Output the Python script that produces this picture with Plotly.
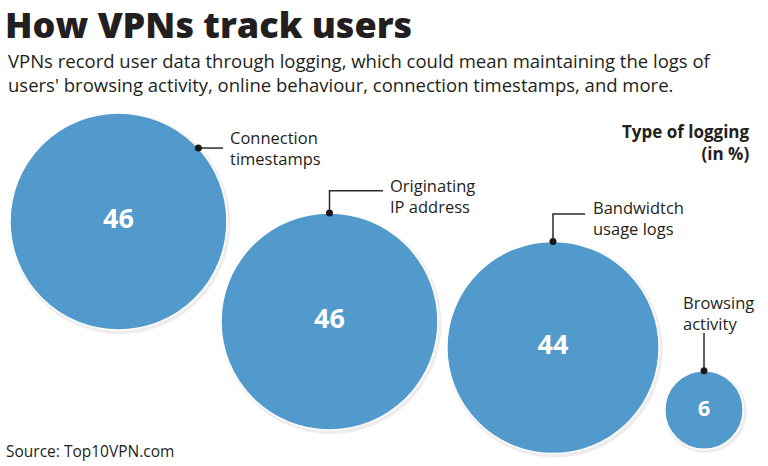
import math
import plotly.graph_objects as go

# ---- data ----
categories = ["Connection timestamps", "Originating IP address", "Bandwidtch usage logs", "Browsing activity"]
values = [46, 46, 44, 6]
label_lines = [["Connection", "timestamps"], ["Originating", "IP address"], ["Bandwidtch", "usage logs"], ["Browsing", "activity"]]

# ---- layout positions (pixel space) ----
W, H = 768, 466
centers_x = [118.5, 329.5, 553, 704]
centers_y = [221.5, 321.5, 347.5, 410]
max_diam = 217
BLUE = "#5299CC"
INK = "#231F20"
FONT = "Open Sans"

diams = [max_diam * math.sqrt(v / max(values)) for v in values]
radii = [d / 2 for d in diams]

fig = go.Figure()

# soft shadow
fig.add_trace(go.Scatter(
    x=[c + 1.5 for c in centers_x], y=[c + 2 for c in centers_y],
    mode="markers",
    marker=dict(size=[d + 4 for d in diams], color="rgba(0,0,0,0.10)", line=dict(width=0)),
    hoverinfo="skip", showlegend=False,
))

# bubbles
fig.add_trace(go.Scatter(
    x=centers_x, y=centers_y,
    mode="markers+text",
    marker=dict(size=diams, color=BLUE, opacity=1, line=dict(width=1.5, color="white")),
    text=[str(v) for v in values],
    textposition="middle center",
    textfont=dict(family=FONT, size=[27 if v > 10 else 22 for v in values], color="white", weight="bold"),
    customdata=categories,
    hovertemplate="%{customdata}: %{text}%<extra></extra>",
    showlegend=False,
))

# leader lines
ang = math.radians(47.4)
d1 = (centers_x[0] + radii[0] * math.sin(ang), centers_y[0] - radii[0] * math.cos(ang))
dots = [d1]
for i in (1, 2, 3):
    dots.append((centers_x[i], centers_y[i] - radii[i]))

leaders = [
    [d1, (223, d1[1])],
    [dots[1], (dots[1][0], 190.7), (383, 190.7)],
    [dots[2], (dots[2][0], 214), (585, 214)],
    [dots[3], (dots[3][0], 333)],
]
for pts in leaders:
    fig.add_trace(go.Scatter(
        x=[p[0] for p in pts], y=[p[1] for p in pts],
        mode="lines", line=dict(color="#2a2a2a", width=1.5),
        hoverinfo="skip", showlegend=False,
    ))

fig.add_trace(go.Scatter(
    x=[d[0] for d in dots], y=[d[1] for d in dots],
    mode="markers", marker=dict(size=7, color="#1a1a1a"),
    hoverinfo="skip", showlegend=False,
))

# labels
label_pos = [(228, 148), (388, 196), (591, 218), (681, 313)]
for (lx, ly), lines in zip(label_pos, label_lines):
    fig.add_annotation(
        x=lx, y=ly, xref="x", yref="y", xanchor="left", yanchor="middle",
        text="<br>".join(lines), showarrow=False, align="left",
        font=dict(family=FONT, size=16.5, color=INK),
    )

# header texts
fig.add_annotation(
    x=3, y=24, xref="x", yref="y", xanchor="left", yanchor="middle",
    text="How VPNs track users", showarrow=False,
    font=dict(family=FONT, size=36, color=INK, weight=800),
)
fig.add_annotation(
    x=6, y=72, xref="x", yref="y", xanchor="left", yanchor="middle", align="left",
    text="VPNs record user data through logging, which could mean maintaining the logs of<br>users' browsing activity, online behaviour, connection timestamps, and more.",
    showarrow=False,
    font=dict(family=FONT, size=18.5, color=INK),
)
fig.add_annotation(
    x=752, y=142, xref="x", yref="y", xanchor="right", yanchor="middle", align="right",
    text="Type of logging<br>(in %)", showarrow=False,
    font=dict(family=FONT, size=17, color=INK, weight="bold"),
)
fig.add_annotation(
    x=4, y=451, xref="x", yref="y", xanchor="left", yanchor="middle",
    text="Source: Top10VPN.com", showarrow=False,
    font=dict(family=FONT, size=15.5, color=INK),
)

fig.update_xaxes(range=[0, W], visible=False, fixedrange=True)
fig.update_yaxes(range=[H, 0], visible=False, fixedrange=True)
fig.update_layout(
    width=W, height=H,
    margin=dict(l=0, r=0, t=0, b=0, pad=0, autoexpand=False),
    paper_bgcolor="white", plot_bgcolor="white",
    showlegend=False,
)

fig.write_html(
    "out.html",
    config={"displayModeBar": False},
    post_script="document.body.style.margin='0';document.body.style.overflow='hidden';",
)
